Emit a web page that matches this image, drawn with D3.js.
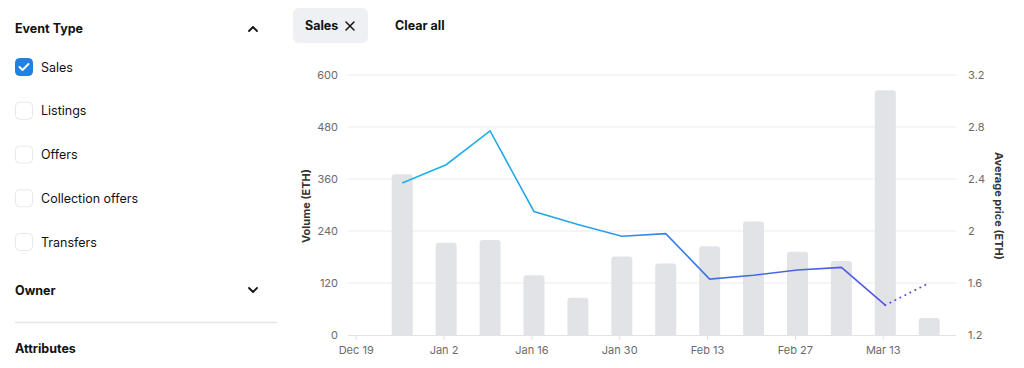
<!DOCTYPE html>
<html>
<head>
<meta charset="utf-8">
<script src="https://cdn.jsdelivr.net/npm/d3@7"></script>
<style>
  html, body { margin: 0; padding: 0; background: #fff; }
  svg { display: block; font-family: Inter, "Noto Sans", sans-serif; }
</style>
</head>
<body>
<svg id="chart" width="1024" height="368"></svg>
<script>
// ---- data ----
const weeks = ["2022-12-26","2023-01-02","2023-01-09","2023-01-16","2023-01-23","2023-01-30","2023-02-06","2023-02-13","2023-02-20","2023-02-27","2023-03-06","2023-03-13","2023-03-20"];
const volume = [371, 213, 219, 138, 86, 181, 165, 205, 262, 192, 171, 565, 39];
const avgPrice = [2.37, 2.51, 2.77, 2.15, 2.05, 1.96, 1.98, 1.63, 1.66, 1.70, 1.72, 1.43, 1.60];
const tickDates = ["2022-12-19","2023-01-02","2023-01-16","2023-01-30","2023-02-13","2023-02-27","2023-03-13"];
const volumeTicks = [0, 120, 240, 360, 480, 600];
const priceTicks = [1.2, 1.6, 2, 2.4, 2.8, 3.2];
const eventTypes = ["Sales", "Listings", "Offers", "Collection offers", "Transfers"];
const checked = ["Sales"];

const parse = d3.timeParse("%Y-%m-%d");
const fmtTick = d3.timeFormat("%b %-d");
const svg = d3.select("#chart");

// ---- left filter panel ----
const panel = svg.append("g");
panel.append("text").attr("x", 15).attr("y", 33).attr("font-size", 12.5).attr("font-weight", 700).attr("fill", "#121212").text("Event Type");
panel.append("path").attr("d", "M249,31 L253,27 L257,31").attr("fill", "none").attr("stroke", "#121212").attr("stroke-width", 1.8).attr("stroke-linecap", "round").attr("stroke-linejoin", "round");
const rowY = d3.scalePoint().domain(eventTypes).range([67, 242]);
eventTypes.forEach(t => {
  const y = rowY(t);
  const on = checked.includes(t);
  panel.append("rect").attr("x", 15.5).attr("y", y - 8.5).attr("width", 17).attr("height", 17).attr("rx", 4)
    .attr("fill", on ? "#2081e2" : "#fff").attr("stroke", on ? "#2081e2" : "#e5e8eb").attr("stroke-width", 1);
  if (on) panel.append("path").attr("d", `M19.5,${y} L22.5,${y + 3} L28.5,${y - 3}`).attr("fill", "none").attr("stroke", "#fff").attr("stroke-width", 2).attr("stroke-linecap", "round").attr("stroke-linejoin", "round");
  panel.append("text").attr("x", 41).attr("y", y + 4.5).attr("font-size", 12.5).attr("fill", "#121212").text(t);
});
panel.append("text").attr("x", 15).attr("y", 294.5).attr("font-size", 12.5).attr("font-weight", 700).attr("fill", "#121212").text("Owner");
panel.append("path").attr("d", "M249,288 L253,292 L257,288").attr("fill", "none").attr("stroke", "#121212").attr("stroke-width", 1.8).attr("stroke-linecap", "round").attr("stroke-linejoin", "round");
panel.append("line").attr("x1", 15).attr("x2", 277).attr("y1", 322.5).attr("y2", 322.5).attr("stroke", "#e5e8eb").attr("stroke-width", 1.5);
panel.append("text").attr("x", 15).attr("y", 353).attr("font-size", 12.5).attr("font-weight", 700).attr("fill", "#121212").text("Attributes");

// ---- chips ----
svg.append("rect").attr("x", 293).attr("y", 8).attr("width", 75).attr("height", 35).attr("rx", 6).attr("fill", "#eef0f3");
svg.append("text").attr("x", 305).attr("y", 30).attr("font-size", 12.5).attr("font-weight", 700).attr("fill", "#121212").text("Sales");
svg.append("path").attr("d", "M346,22 L354,30 M354,22 L346,30").attr("stroke", "#121212").attr("stroke-width", 1.5).attr("stroke-linecap", "round");
svg.append("text").attr("x", 395).attr("y", 30).attr("font-size", 12.5).attr("font-weight", 700).attr("fill", "#121212").text("Clear all");

// ---- chart ----
const x = d3.scaleTime().domain([parse("2022-12-19"), parse("2023-03-13")]).range([355.7, 882.7]);
const yV = d3.scaleLinear().domain([0, 600]).range([335, 75]);
const yP = d3.scaleLinear().domain([1.2, 3.2]).range([335, 75]);
const plotL = 348, plotR = 956;
const center = d => x(d3.timeHour.offset(parse(d), 10));

const g = svg.append("g");
// gridlines
g.selectAll("line.grid").data(volumeTicks.slice(1)).join("line")
  .attr("x1", plotL).attr("x2", plotR).attr("y1", d => yV(d)).attr("y2", d => yV(d))
  .attr("stroke", "#ebebeb").attr("stroke-width", 1.2);
g.append("line").attr("x1", plotL).attr("x2", plotR).attr("y1", 335.5).attr("y2", 335.5).attr("stroke", "#e3e3e3").attr("stroke-width", 1.2);

// left axis labels
g.selectAll("text.yl").data(volumeTicks).join("text")
  .attr("x", 338).attr("y", d => yV(d) + 4).attr("text-anchor", "end")
  .attr("font-size", 11).attr("fill", "#6b6b6b").text(d => d);
// right axis labels
g.selectAll("text.yr").data(priceTicks).join("text")
  .attr("x", 968).attr("y", d => yP(d) + 4).attr("text-anchor", "start")
  .attr("font-size", 11).attr("fill", "#6b6b6b").text(d => d3.format("~g")(d));

// x axis
const xAxis = d3.axisBottom(x).tickValues(tickDates.map(parse)).tickFormat(fmtTick).tickSize(5).tickPadding(6);
const xa = g.append("g").attr("transform", "translate(0,335)").call(xAxis);
xa.select(".domain").remove();
xa.selectAll("line").attr("stroke", "#e0e0e0");
xa.selectAll("text").attr("font-size", 11).attr("fill", "#6b6b6b").attr("font-family", "Inter, 'Noto Sans', sans-serif");

// axis titles
g.append("text").attr("transform", "translate(310,206) rotate(-90)").attr("text-anchor", "middle")
  .attr("font-size", 11).attr("font-weight", 700).attr("fill", "#333").text("Volume (ETH)");
g.append("text").attr("transform", "translate(995,206) rotate(90)").attr("text-anchor", "middle")
  .attr("font-size", 11).attr("font-weight", 700).attr("fill", "#333").text("Average price (ETH)");

// bars
const bw = 21, r = 3;
g.selectAll("path.bar").data(weeks.map((w, i) => ({ w, v: volume[i] }))).join("path")
  .attr("fill", "#e1e3e7")
  .attr("d", d => {
    const cx = center(d.w), x0 = cx - bw / 2, x1 = cx + bw / 2, y0 = yV(d.v), yb = yV(0);
    return `M${x0},${yb} L${x0},${y0 + r} Q${x0},${y0} ${x0 + r},${y0} L${x1 - r},${y0} Q${x1},${y0} ${x1},${y0 + r} L${x1},${yb} Z`;
  });

// gradient for price line
const defs = svg.append("defs");
const grad = defs.append("linearGradient").attr("id", "lineGrad").attr("gradientUnits", "userSpaceOnUse")
  .attr("x1", center(weeks[0])).attr("x2", center(weeks[weeks.length - 1])).attr("y1", 0).attr("y2", 0);
[["0%", "#1bb4e8"], ["35%", "#29a2e8"], ["58%", "#3d72e4"], ["100%", "#5b4ee0"]].forEach(([o, c]) =>
  grad.append("stop").attr("offset", o).attr("stop-color", c));

const pts = weeks.map((w, i) => [center(w), yP(avgPrice[i])]);
const line = d3.line();
g.append("path").attr("d", line(pts.slice(0, pts.length - 1))).attr("fill", "none")
  .attr("stroke", "url(#lineGrad)").attr("stroke-width", 1.6).attr("stroke-linejoin", "miter");
g.append("path").attr("d", line(pts.slice(pts.length - 2))).attr("fill", "none")
  .attr("stroke", "#5b4ee0").attr("stroke-width", 2).attr("stroke-dasharray", "0.1 5.5").attr("stroke-linecap", "round");
</script>
</body>
</html>
